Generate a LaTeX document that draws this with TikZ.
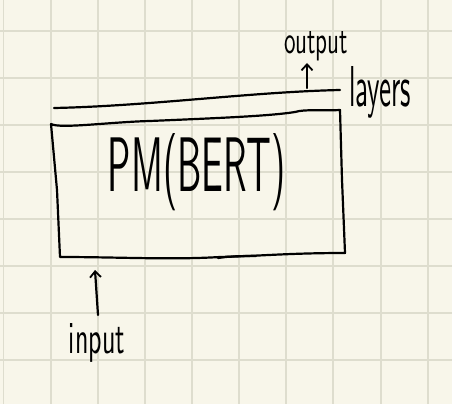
\documentclass[tikz,border=0pt]{standalone}
\usepackage{graphicx}
\usetikzlibrary{arrows.meta}
\definecolor{paper}{HTML}{F8F6EA}
\definecolor{gridc}{HTML}{DEDDCE}
\tikzset{
  ink/.style={line width=2.2pt, black, line cap=round, line join=round},
  inkarrow/.style={ink, -{Straight Barb[length=6pt,width=11pt,line width=1.8pt]}},
  hand/.style={font=\sffamily, inner sep=0pt}
}
\begin{document}
\begin{tikzpicture}[x=1pt,y=-1pt]
\fill[paper] (0,0) rectangle (452,404);
\useasboundingbox (0,0) rectangle (452,404);
% grid
\foreach \x in {3.5,51,98,145,192,239,286,333,381,428}
  \draw[gridc, line width=1.8pt] (\x,0) -- (\x,404);
\foreach \y in {31,78,125,172,219,266,313,360}
  \draw[gridc, line width=1.8pt] (0,\y) -- (452,\y);
% layers line
\coordinate (lyL) at (54,108);
\coordinate (lyR) at (340,90);
\draw[ink] (lyL) .. controls (150,106) and (250,92) .. (lyR);
% box
\coordinate (tl) at (51,124);
\coordinate (tr) at (340,110);
\coordinate (br) at (345,253);
\coordinate (bl) at (60,257);
\draw[ink] (tl) .. controls (60,129) and (110,122) .. (150,121)
  .. controls (220,118) and (270,116) .. (295,112) .. controls (305,109) and (320,111) .. (tr)
  -- (342,180) -- (br)
  .. controls (290,253) and (260,256) .. (220,257)
  .. controls (170,260) and (120,257) .. (bl)
  -- (57,190) -- cycle;
\draw[ink] (218,258) .. controls (230,256) and (245,256) .. (256,256);
% title
\node[hand] (pm) at (197,172) {\resizebox{178pt}{58pt}{PM(BERT)}};
% output arrow and label
\coordinate (outS) at (307,88);
\coordinate (outE) at (307,63);
\draw[inkarrow] (outS) -- (outE);
\node[hand] (out) at (316,46) {\resizebox{64pt}{22pt}{output}};
\node[hand] (lay) at (380,92) {\resizebox{62pt}{40pt}{layers}};
% input arrow and label
\coordinate (inS) at (98,315);
\coordinate (inE) at (95,270);
\draw[inkarrow] (inS) -- (inE);
\node[hand] (inp) at (97,343) {\resizebox{56pt}{30pt}{input}};
\end{tikzpicture}
\end{document}
